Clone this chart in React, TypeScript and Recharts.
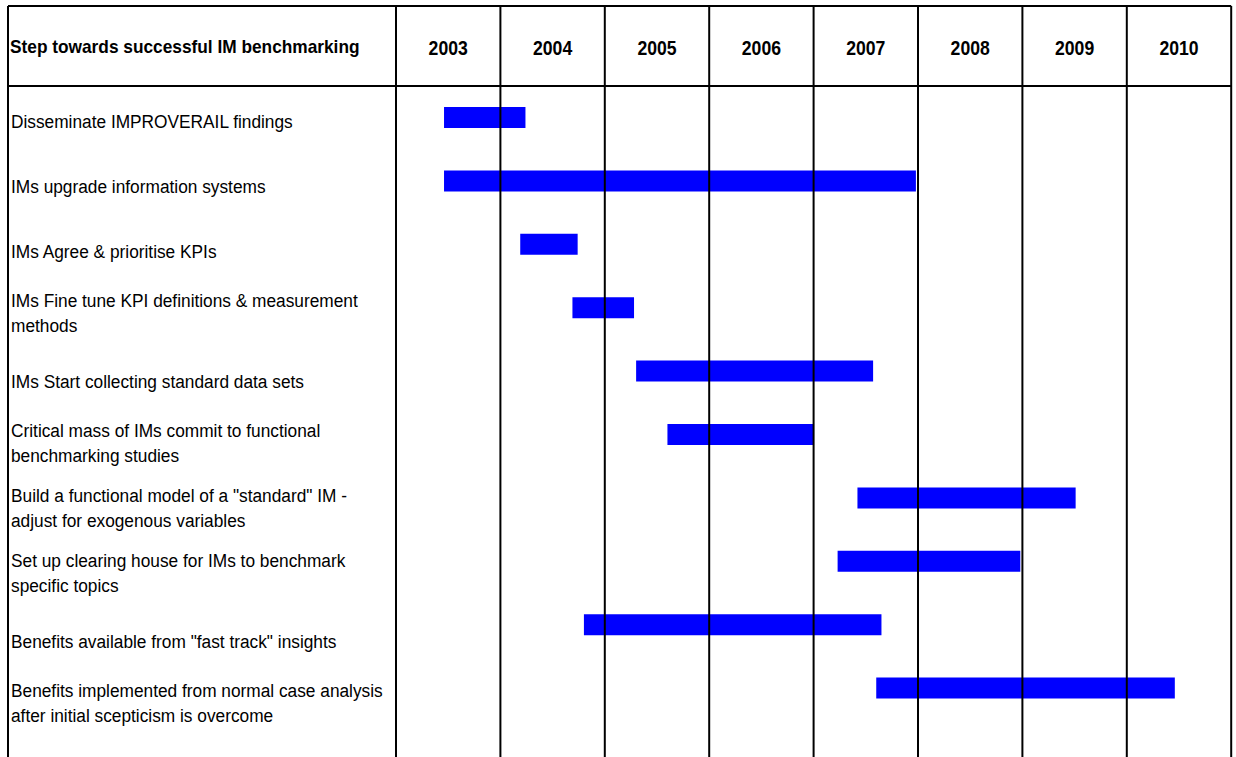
import { BarChart, Bar, XAxis, YAxis, ReferenceLine } from 'recharts';

const years = ['2003', '2004', '2005', '2006', '2007', '2008', '2009', '2010'];

const steps = [
  'Disseminate IMPROVERAIL findings',
  'IMs upgrade information systems',
  'IMs Agree & prioritise KPIs',
  'IMs Fine tune KPI definitions & measurement\nmethods',
  'IMs Start collecting standard data sets',
  'Critical mass of IMs commit to functional\nbenchmarking studies',
  'Build a functional model of a "standard" IM -\nadjust for exogenous variables',
  'Set up clearing house for IMs to benchmark\nspecific topics',
  'Benefits available from "fast track" insights',
  'Benefits implemented from normal case analysis\nafter initial scepticism is overcome',
];

const starts = [2003.46, 2003.46, 2004.19, 2004.69, 2005.30, 2005.60, 2007.42, 2007.23, 2004.80, 2007.60];
const ends = [2004.24, 2007.98, 2004.74, 2005.28, 2007.57, 2007.00, 2009.51, 2008.98, 2007.65, 2010.46];

const TITLE = 'Step towards successful IM benchmarking';

const W = 1236;
const H = 757;
const TOP = 6;
const LEFT = 8;
const HEADER_H = 80;
const LABEL_W = 388;
const RIGHT = 4.8;
const COL_W = (W - LEFT - LABEL_W - RIGHT) / years.length;
const FONT = '"Liberation Sans", Arial, Helvetica, sans-serif';

const boundaries = [...years.map(Number), Number(years[years.length - 1]) + 1];

const data = steps.map((step, i) => ({ step, span: [starts[i], ends[i]] }));

function YearTick({ x, payload, index }: any) {
  if (index >= years.length) return null;
  return (
    <text
      transform={`translate(${x + COL_W / 2}, ${TOP + 49}) scale(0.86, 1)`}
      textAnchor="middle" fontFamily={FONT} fontSize={20.5} fontWeight="bold" fill="#000"
    >
      {years[index] ?? payload.value}
    </text>
  );
}

function StepTick({ y, payload }: any) {
  const lines = String(payload.value).split('\n');
  const first = y + 9.8 - (lines.length - 1) * 16.5;
  return (
    <g>
      {lines.map((l, i) => (
        <text key={i} transform={`translate(${LEFT + 3}, ${first + i * 25}) scale(0.91, 1)`}
          fontFamily={FONT} fontSize={19} fill="#000">
          {l}
        </text>
      ))}
    </g>
  );
}

export default function App() {
  const plotLeft = LEFT + LABEL_W;
  const plotTop = TOP + HEADER_H;
  return (
    <div style={{ position: 'absolute', left: 0, top: 0, width: W, height: H, overflow: 'hidden', background: '#fff' }}>
      <BarChart width={W} height={H} data={data} layout="vertical"
        margin={{ top: TOP, left: LEFT, right: RIGHT, bottom: 0 }} barSize={21}>
        <XAxis type="number" orientation="top" domain={[boundaries[0], boundaries[boundaries.length - 1]]}
          ticks={boundaries} interval={0} height={HEADER_H} tickSize={HEADER_H}
          axisLine={{ stroke: '#000', strokeWidth: 2 }} tickLine={{ stroke: '#000', strokeWidth: 2 }}
          tick={(p: any) => <YearTick {...p} />} />
        <YAxis type="category" dataKey="step" width={LABEL_W} interval={0}
          axisLine={false} tickLine={false} padding={{ top: 0, bottom: 21 }}
          tick={(p: any) => <StepTick {...p} />} />
        <YAxis yAxisId="bars" type="category" dataKey="step" hide padding={{ top: 0, bottom: 37 }} />
        {boundaries.map(b => (
          <ReferenceLine key={b} x={b} stroke="#000" strokeWidth={2} />
        ))}
        <Bar yAxisId="bars" dataKey="span" fill="#0000FF" isAnimationActive={false} />
        <line x1={LEFT} y1={TOP} x2={W - RIGHT} y2={TOP} stroke="#000" strokeWidth={2} />
        <line x1={LEFT} y1={TOP} x2={LEFT} y2={H} stroke="#000" strokeWidth={2} />
        <line x1={LEFT} y1={plotTop} x2={plotLeft} y2={plotTop} stroke="#000" strokeWidth={2} />
        <text transform={`translate(${LEFT + 2}, ${TOP + 46.7}) scale(0.92, 1)`}
          fontFamily={FONT} fontSize={18.8} fontWeight="bold" fill="#000">
          {TITLE}
        </text>
      </BarChart>
    </div>
  );
}
